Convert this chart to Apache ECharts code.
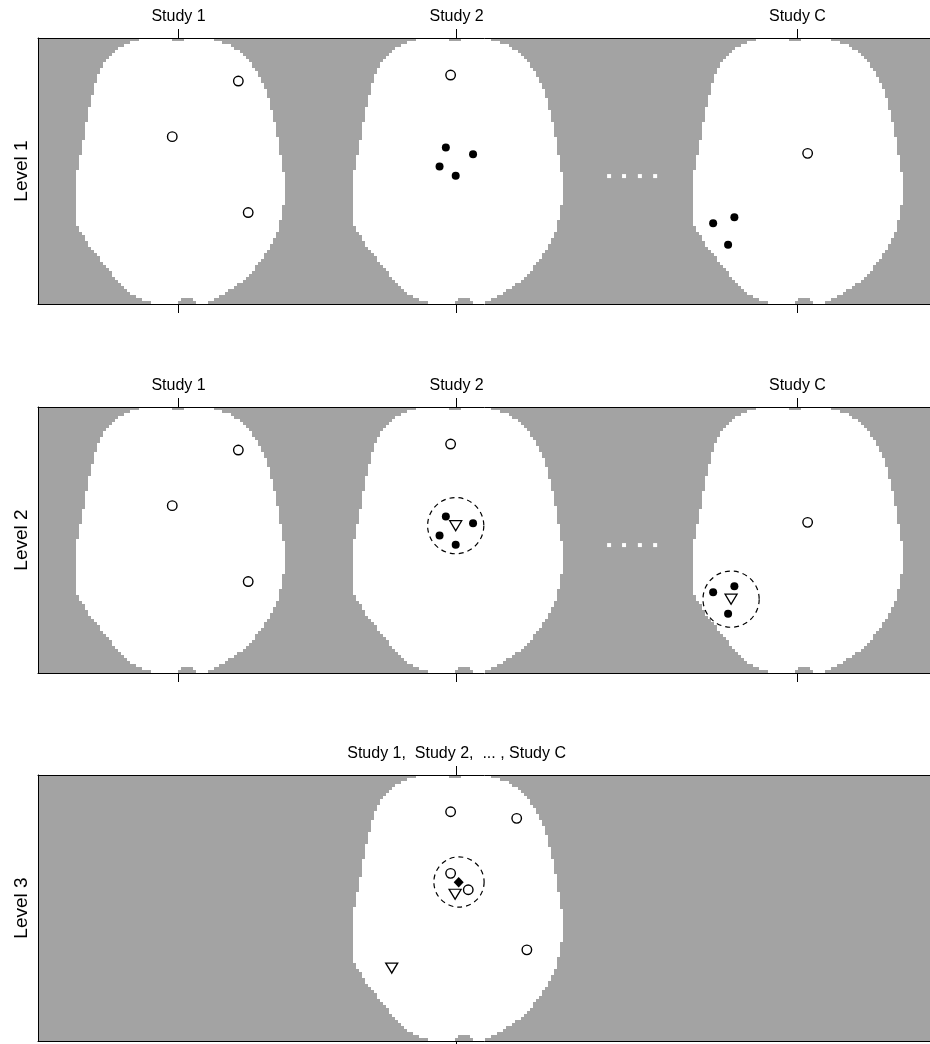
<!DOCTYPE html>
<html>
<head>
<meta charset="utf-8">
<script src="https://cdn.jsdelivr.net/npm/echarts@6/dist/echarts.min.js"></script>
<style>
  html, body { margin: 0; padding: 0; background: #fff; }
  #chart { width: 930px; height: 1044px; }
</style>
</head>
<body>
<div id="chart"></div>
<script>
// Panel coordinates are in voxel units: one unit = one mask voxel.
const levelNames = ['Level 1', 'Level 2', 'Level 3'];
const studyLabels = ['Study 1', 'Study 2', 'Study C'];
const studyTicks = [47, 140, 254];
const pooledLabel = 'Study 1,  Study 2,  ... , Study C';
const pooledTick = [140];
const brainCentres = [47.7, 140.5, 254.2];
const pooledCentre = [140.5];

// Axial brain mask: left / right edge of each voxel row (offset from centre), top to bottom.
const brainLeft = [
  -14, -17, -19, -21, -22, -23, -24, -25, -26, -26,
  -27, -27, -28, -28, -28, -29, -29, -29, -29, -30,
  -30, -30, -30, -31, -31, -31, -31, -31, -32, -32,
  -32, -32, -32, -32, -33, -33, -33, -33, -33, -34,
  -34, -34, -34, -34, -35, -35, -35, -35, -35, -35,
  -35, -35, -35, -35, -35, -35, -35, -35, -35, -35,
  -35, -35, -35, -34, -34, -33, -32, -32, -31, -31,
  -30, -29, -28, -27, -27, -26, -25, -24, -23, -23,
  -22, -21, -20, -19, -18, -17, -15, -13, -10
];
const brainRight = [
  11, 14, 17, 18, 20, 21, 22, 23, 24, 24,
  25, 26, 26, 27, 27, 28, 28, 29, 29, 29,
  30, 30, 30, 30, 31, 31, 31, 31, 32, 32,
  32, 32, 32, 33, 33, 33, 33, 33, 33, 34,
  34, 34, 34, 34, 34, 35, 35, 35, 35, 35,
  35, 35, 35, 35, 35, 35, 34, 34, 34, 34,
  34, 33, 33, 33, 33, 32, 32, 31, 31, 30,
  30, 29, 28, 28, 27, 26, 25, 25, 24, 23,
  22, 21, 19, 18, 16, 15, 13, 11, 9
];
// Notches in the mask: [row, from, to]
const brainGaps = [[0, -3, 1], [87, 0, 4], [88, -1, 5]];

// Foci (x, y) for each level
const level1Open = [[67.0, 14.4], [44.9, 33.0], [70.3, 58.4], [138.0, 12.4], [257.4, 38.6]];
const level1Filled = [[136.4, 36.6], [145.5, 38.9], [134.3, 43.0], [139.7, 46.1],
                      [232.9, 60.0], [225.8, 62.0], [230.8, 69.2]];
const level2Open = [[67.0, 14.4], [44.9, 33.0], [70.3, 58.4], [138.0, 12.4], [257.4, 38.6]];
const level2Filled = [[136.4, 36.6], [145.5, 38.9], [134.3, 43.0], [139.7, 46.1],
                      [232.9, 60.0], [225.8, 62.0], [230.8, 69.2]];
const level2Centres = [[139.7, 39.7], [231.8, 64.3]];
const level2Radius = [9.4, 9.4];
const level3Open = [[138.0, 12.3], [160.1, 14.5], [163.5, 58.5], [138.0, 32.9], [143.9, 38.4]];
const level3Centres = [[139.5, 39.9], [118.3, 64.6]];
const level3Pooled = [[140.7, 35.9]];
const level3Circle = [[140.8, 35.8]];
const level3Radius = [8.4];
const ellipsisDots = [[191.0, 46.2], [196.0, 46.2], [201.3, 46.2], [206.4, 46.2]];

const FONT = "'Liberation Sans', Arial, Helvetica, sans-serif";
const GREY = '#a3a3a3';
const gridTops = [38, 407, 775];
const gridH = 266, gridW = 897, gridL = 38;
const X_MAX = 300, Y_MAX = 89;

function brainItems(centres) {
  const items = [];
  centres.forEach(c => {
    brainLeft.forEach((l, row) => {
      const r = brainRight[row];
      const cuts = brainGaps.filter(g => g[0] === row).sort((a, b) => a[1] - b[1]);
      let start = l;
      cuts.forEach(g => { items.push([c + start, row, c + g[1]]); start = g[2]; });
      items.push([c + start, row, c + r]);
    });
  });
  return items;
}

function brainSeries(idx, centres) {
  return {
    type: 'custom', xAxisIndex: idx * 2, yAxisIndex: idx, z: 1, silent: true,
    encode: { x: [0, 2], y: 1 },
    data: brainItems(centres),
    renderItem: (params, api) => {
      const p0 = api.coord([api.value(0), api.value(1)]);
      const p1 = api.coord([api.value(2), api.value(1) + 1]);
      const x0 = Math.round(p0[0]), x1 = Math.round(p1[0]);
      const y0 = Math.round(Math.min(p0[1], p1[1])), y1 = Math.round(Math.max(p0[1], p1[1]));
      return { type: 'rect', shape: { x: x0, y: y0, width: x1 - x0, height: y1 - y0 },
               style: { fill: '#ffffff' } };
    }
  };
}

function dashedCircles(idx, centres, radii) {
  return {
    type: 'custom', xAxisIndex: idx * 2, yAxisIndex: idx, z: 3, silent: true,
    data: centres.map((c, i) => [c[0], c[1], radii[i]]),
    renderItem: (params, api) => {
      const c = api.coord([api.value(0), api.value(1)]);
      const r = api.size([api.value(2), 0])[0];
      return { type: 'circle', shape: { cx: c[0], cy: c[1], r: r },
               style: { fill: 'none', stroke: '#000', lineWidth: 1.2, lineDash: [5, 4] } };
    }
  };
}

function points(idx, data, kind) {
  const base = { type: 'scatter', xAxisIndex: idx * 2, yAxisIndex: idx, z: 4, silent: true, data: data };
  if (kind === 'open') return Object.assign(base, { symbol: 'circle', symbolSize: 9.5,
    itemStyle: { color: 'rgba(255,255,255,0)', borderColor: '#000', borderWidth: 1.4, opacity: 1 } });
  if (kind === 'filled') return Object.assign(base, { symbol: 'circle', symbolSize: 8,
    itemStyle: { color: '#000', opacity: 1 } });
  if (kind === 'tri') return Object.assign(base, { symbol: 'triangle', symbolSize: [12, 10], symbolRotate: 180,
    itemStyle: { color: 'rgba(255,255,255,0)', borderColor: '#000', borderWidth: 1.3, opacity: 1 } });
  if (kind === 'diamond') return Object.assign(base, { symbol: 'diamond', symbolSize: [10, 10.5],
    itemStyle: { color: '#000', opacity: 1 } });
  if (kind === 'dots') return Object.assign(base, { symbol: 'rect', symbolSize: 4,
    itemStyle: { color: '#ffffff', opacity: 1 } });
}

const grids = gridTops.map(t => ({
  left: gridL, top: t, width: gridW, height: gridH,
  outerBoundsMode: 'none', containLabel: false,
  show: true, backgroundColor: GREY, borderWidth: 0
}));

const xAxes = [];
const yAxes = [];
levelNames.forEach((name, i) => {
  const ticks = i < 2 ? studyTicks : pooledTick;
  const labels = i < 2 ? studyLabels : [pooledLabel];
  const fmt = v => { const k = ticks.indexOf(v); return k >= 0 ? labels[k] : ''; };
  ['top', 'bottom'].forEach(pos => {
    xAxes.push({
      type: 'value', gridIndex: i, position: pos, min: 0, max: X_MAX, z: 10,
      axisLine: { show: true, onZero: false, lineStyle: { color: '#000', width: 1 } },
      axisTick: { show: true, inside: false, length: 9, customValues: ticks,
                  lineStyle: { color: '#000', width: 1 } },
      axisLabel: { show: pos === 'top', customValues: ticks, formatter: fmt,
                   fontSize: 16, fontFamily: FONT, color: '#000', margin: 13 },
      splitLine: { show: false }
    });
  });
  yAxes.push({
    type: 'value', gridIndex: i, inverse: true, min: 0, max: Y_MAX, z: 10,
    axisLine: { show: true, onZero: false, lineStyle: { color: '#000', width: 1 } },
    axisTick: { show: false }, axisLabel: { show: false }, splitLine: { show: false },
    name: name, nameLocation: 'middle', nameRotate: 90, nameGap: 7,
    nameTextStyle: { fontSize: 19, fontFamily: FONT, color: '#000' }
  });
});

const series = [
  brainSeries(0, brainCentres),
  points(0, ellipsisDots, 'dots'),
  points(0, level1Open, 'open'),
  points(0, level1Filled, 'filled'),

  brainSeries(1, brainCentres),
  points(1, ellipsisDots, 'dots'),
  dashedCircles(1, level2Centres, level2Radius),
  points(1, level2Open, 'open'),
  points(1, level2Filled, 'filled'),
  points(1, level2Centres, 'tri'),

  brainSeries(2, pooledCentre),
  dashedCircles(2, level3Circle, level3Radius),
  points(2, level3Open, 'open'),
  points(2, level3Centres, 'tri'),
  points(2, level3Pooled, 'diamond')
];

const chart = echarts.init(document.getElementById('chart'), null, { renderer: 'canvas' });
chart.setOption({
  animation: false,
  backgroundColor: '#ffffff',
  grid: grids,
  xAxis: xAxes,
  yAxis: yAxes,
  series: series
});
</script>
</body>
</html>
